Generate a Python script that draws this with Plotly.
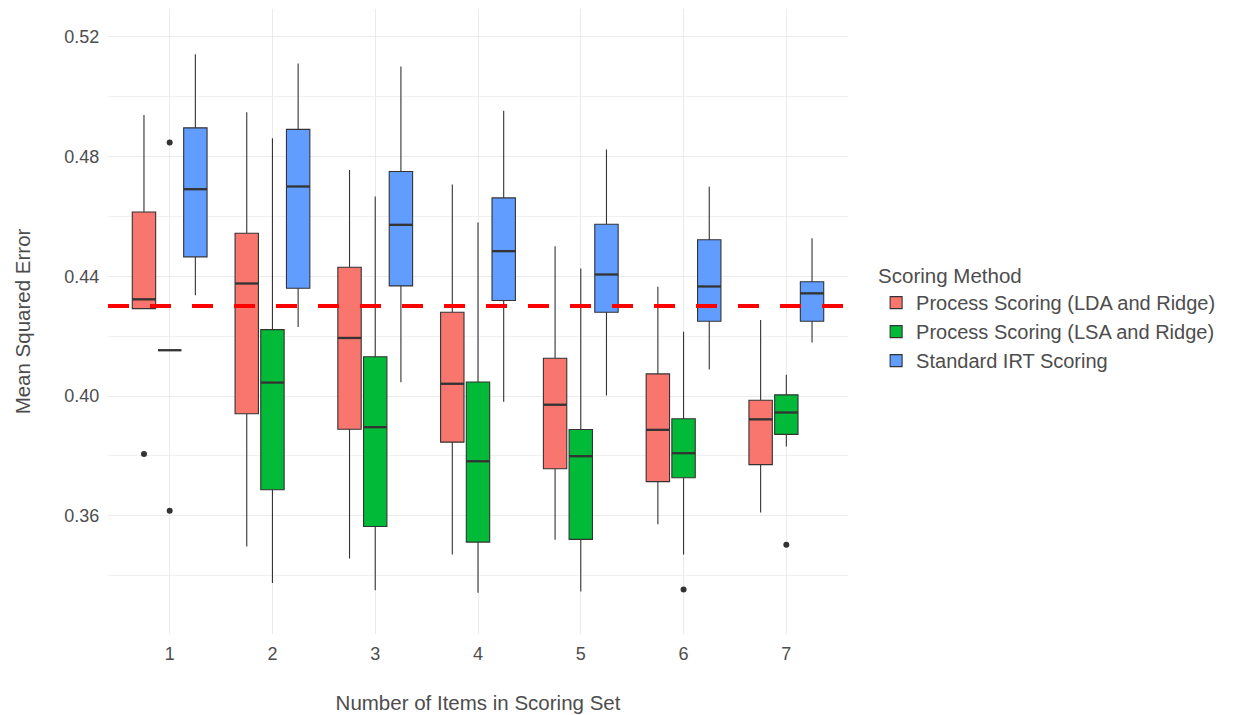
import plotly.graph_objects as go

categories = [1, 2, 3, 4, 5, 6, 7]
tick_labels = ["1", "2", "3", "4", "5", "6", "7"]
methods = ["Process Scoring (LDA and Ridge)", "Process Scoring (LSA and Ridge)", "Standard IRT Scoring"]
colors = ["#F8766D", "#00BA38", "#619CFF"]

# LDA and Ridge
lda_q1 = [0.4292, 0.3941, 0.3889, 0.3846, 0.3757, 0.3714, 0.3771]
lda_med = [0.4323, 0.4376, 0.4194, 0.4041, 0.3971, 0.3887, 0.3922]
lda_q3 = [0.4615, 0.4544, 0.4430, 0.4280, 0.4126, 0.4074, 0.3986]
lda_lo = [0.4292, 0.3497, 0.3457, 0.3471, 0.3520, 0.3572, 0.3611]
lda_hi = [0.4939, 0.4948, 0.4755, 0.4707, 0.4500, 0.4365, 0.4254]
lda_out_x = [1]
lda_out_y = [0.3806]

# LSA and Ridge
lsa_q1 = [0.4153, 0.3687, 0.3564, 0.3512, 0.3521, 0.3727, 0.3872]
lsa_med = [0.4153, 0.4045, 0.3896, 0.3782, 0.3799, 0.3809, 0.3945]
lsa_q3 = [0.4153, 0.4222, 0.4131, 0.4047, 0.3888, 0.3924, 0.4004]
lsa_lo = [0.4153, 0.3375, 0.3351, 0.3343, 0.3347, 0.3471, 0.3831]
lsa_hi = [0.4153, 0.4861, 0.4667, 0.4580, 0.4426, 0.4215, 0.4071]
lsa_out_x = [1, 1, 6, 7]
lsa_out_y = [0.4847, 0.3617, 0.3354, 0.3503]

# Standard IRT
irt_q1 = [0.4465, 0.4360, 0.4368, 0.4319, 0.4280, 0.4250, 0.4250]
irt_med = [0.4691, 0.4700, 0.4572, 0.4484, 0.4406, 0.4366, 0.4343]
irt_q3 = [0.4896, 0.4891, 0.4750, 0.4662, 0.4574, 0.4522, 0.4382]
irt_lo = [0.4337, 0.4231, 0.4046, 0.3981, 0.4002, 0.4089, 0.4179]
irt_hi = [0.5142, 0.5111, 0.5101, 0.4953, 0.4824, 0.4699, 0.4527]
irt_out_x = []
irt_out_y = []

reference_mse = 0.4301

y_ticks = [0.36, 0.40, 0.44, 0.48, 0.52]
y_minor = [0.34, 0.38, 0.42, 0.46, 0.50]

series = [
    (lda_q1, lda_med, lda_q3, lda_lo, lda_hi, lda_out_x, lda_out_y),
    (lsa_q1, lsa_med, lsa_q3, lsa_lo, lsa_hi, lsa_out_x, lsa_out_y),
    (irt_q1, irt_med, irt_q3, irt_lo, irt_hi, irt_out_x, irt_out_y),
]

slot = 0.25
boxgroupgap = 0.09
half_w = slot * (1 - boxgroupgap) / 2

FONT = "Liberation Sans, Arial, sans-serif"
TXT = "#4D4D4D"

fig = go.Figure()
for gi, (name, col, s) in enumerate(zip(methods, colors, series)):
    q1, med, q3, lo, hi, ox, oy = s
    fig.add_trace(go.Box(
        x=categories, q1=q1, median=med, q3=q3, lowerfence=lo, upperfence=hi,
        name=name, fillcolor=col, line=dict(color="#333333", width=1.1),
        whiskerwidth=0, boxpoints=False,
    ))

for gi, s in enumerate(series):
    q1, med, q3, lo, hi, ox, oy = s
    off = (gi - 1) * slot
    mx, my = [], []
    for c, m in zip(categories, med):
        mx += [c + off - half_w, c + off + half_w, None]
        my += [m, m, None]
    fig.add_trace(go.Scatter(x=mx, y=my, mode="lines", line=dict(color="#333333", width=2.3),
                             showlegend=False, hoverinfo="skip"))
    if ox:
        fig.add_trace(go.Scatter(x=[c + off for c in ox], y=oy, mode="markers",
                                 marker=dict(color="#333333", size=6), showlegend=False,
                                 hoverinfo="skip"))

fig.add_shape(type="line", xref="paper", x0=0, x1=1, yref="y", y0=reference_mse, y1=reference_mse,
              line=dict(color="#FF0000", width=4, dash="21px,21px"), layer="above")

fig.update_layout(
    width=1231, height=707,
    margin=dict(l=100, r=391, t=1, b=81),
    paper_bgcolor="white", plot_bgcolor="white",
    boxmode="group", boxgap=0.25, boxgroupgap=boxgroupgap,
    font=dict(family=FONT, color=TXT),
    legend=dict(
        title=dict(text="Scoring Method", font=dict(size=20.5, color=TXT)),
        font=dict(size=20, color=TXT),
        x=1.038, xanchor="left", y=0.604, yanchor="top",
        bgcolor="rgba(0,0,0,0)", tracegroupgap=0,
    ),
    showlegend=True,
)

fig.update_xaxes(
    range=[0.4, 7.6], tickvals=categories, ticktext=tick_labels,
    showgrid=True, gridcolor="#EBEBEB", gridwidth=1.2, zeroline=False,
    ticks="outside", ticklen=3, tickcolor="rgba(0,0,0,0)",
    tickfont=dict(size=18, color=TXT),
    title=dict(text="Number of Items in Scoring Set", font=dict(size=20.5, color=TXT), standoff=33),
)
fig.update_yaxes(
    range=[0.3205, 0.5293], tickvals=y_ticks, ticktext=["%.2f" % v for v in y_ticks],
    showgrid=True, gridcolor="#EBEBEB", gridwidth=1.2, zeroline=False,
    ticks="outside", ticklen=4, tickcolor="rgba(0,0,0,0)",
    tickfont=dict(size=18, color=TXT),
    minor=dict(tickvals=y_minor, showgrid=True, gridcolor="#F0F0F0", gridwidth=0.8, ticks=""),
    title=dict(text="Mean Squared Error", font=dict(size=20.5, color=TXT), standoff=28),
)

fig.write_html("out.html")
